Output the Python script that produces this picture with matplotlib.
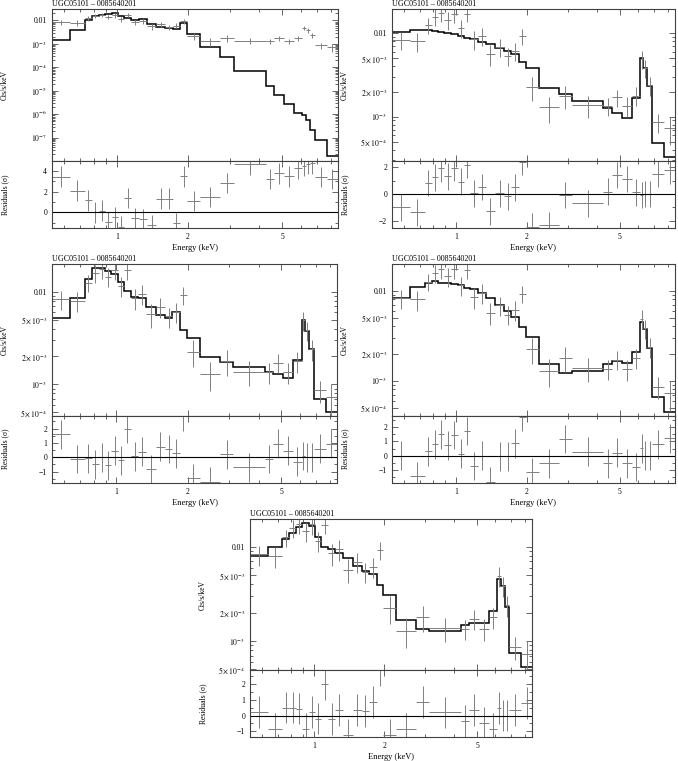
import numpy as np
import matplotlib.pyplot as plt
from matplotlib.ticker import FixedLocator, NullFormatter, MultipleLocator, LogLocator

plt.rcParams['font.family'] = ['Liberation Serif', 'DejaVu Serif']
plt.rcParams['mathtext.fontset'] = 'stix'

W, H = 678, 761
title = 'UGC05101 \u2013 0085640201'

# energy bins (keV), shared by every panel
edges = [0.530, 0.634, 0.734, 0.786, 0.841, 0.892, 0.952, 1.016, 1.078, 1.150,
         1.236, 1.340, 1.468, 1.603, 1.722, 1.856, 1.981, 2.256, 2.743, 3.124,
         4.255, 4.616, 5.088, 5.610, 6.086, 6.308, 6.559, 6.865, 7.719, 8.600]

# observed spectrum (Cts/s/keV) and 1-sigma errors
flux = [8.26e-3, 8.0e-3, 0.0125, 0.0158, 0.0174, 0.0145, 0.0172, 0.0115, 0.0171, 8.5e-3,
        9.4e-3, 5.7e-3, 6.9e-3, 5.4e-3, 6.1e-3, 9.2e-3, 2.25e-3, 1.29e-3, 1.79e-3, 1.37e-3,
        1.35e-3, 1.71e-3, 1.35e-3, 1.79e-3, 4.9e-3, 3.83e-3, 2.39e-3, 8.6e-4, 7.3e-4]
flux_err = [2.0e-3, 2.0e-3, 2.6e-3, 3.5e-3, 3.8e-3, 3.4e-3, 3.8e-3, 2.8e-3, 3.6e-3, 2.2e-3,
            2.3e-3, 1.6e-3, 1.7e-3, 1.3e-3, 1.5e-3, 2.0e-3, 0.72e-3, 0.45e-3, 0.55e-3, 0.4e-3,
            0.33e-3, 0.4e-3, 0.35e-3, 0.45e-3, 1.15e-3, 0.9e-3, 0.6e-3, 0.23e-3, 0.27e-3]

# folded models
model_1 = [1.5e-3, 4.0e-3, 0.010, 0.0163, 0.0174, 0.0186, 0.0206, 0.0163, 0.0134, 0.0107,
           0.0114, 7.2e-3, 5.5e-3, 5.0e-3, 4.3e-3, 8.2e-3, 2.6e-3, 7.3e-4, 2.7e-4, 7.1e-5,
           1.6e-5, 6.7e-6, 2.7e-6, 1.1e-6, 9.4e-7, 5.7e-7, 2.1e-7, 8.1e-8, 1.6e-8]
model_2 = [0.0103, 0.0109, 0.0109, 0.0107, 0.0104, 0.0100, 9.7e-3, 9.4e-3, 8.9e-3, 8.5e-3,
           7.9e-3, 7.4e-3, 6.7e-3, 6.1e-3, 5.65e-3, 4.57e-3, 3.8e-3, 2.23e-3, 1.87e-3, 1.54e-3,
           1.26e-3, 1.10e-3, 9.55e-4, 1.66e-3, 5.1e-3, 3.8e-3, 2.36e-3, 4.8e-4, 3.3e-4]
model_3 = [5.15e-3, 8.48e-3, 0.0137, 0.0179, 0.0179, 0.0167, 0.0154, 0.0126, 0.0102, 8.7e-3,
           8.5e-3, 6.89e-3, 5.6e-3, 5.15e-3, 5.98e-3, 3.85e-3, 3.19e-3, 1.99e-3, 1.76e-3, 1.53e-3,
           1.37e-3, 1.28e-3, 1.16e-3, 1.83e-3, 4.94e-3, 3.77e-3, 2.39e-3, 6.95e-4, 4.99e-4]
model_4 = [8.36e-3, 0.0111, 0.0123, 0.0128, 0.0123, 0.0120, 0.0117, 0.0114, 0.0108, 0.0103,
           9.34e-3, 8.2e-3, 6.93e-3, 6.0e-3, 5.06e-3, 3.92e-3, 3.03e-3, 1.53e-3, 1.21e-3, 1.29e-3,
           1.53e-3, 1.66e-3, 1.56e-3, 2.07e-3, 4.45e-3, 3.75e-3, 2.33e-3, 6.53e-4, 4.53e-4]
model_5 = [8.03e-3, 0.0100, 0.0120, 0.0141, 0.0160, 0.0177, 0.0167, 0.0125, 0.0100, 9.37e-3,
           8.63e-3, 7.51e-3, 6.3e-3, 5.58e-3, 5.1e-3, 3.92e-3, 3.07e-3, 1.67e-3, 1.34e-3, 1.29e-3,
           1.48e-3, 1.54e-3, 1.54e-3, 2.08e-3, 4.54e-3, 3.83e-3, 2.31e-3, 7.5e-4, 5.34e-4]

# residuals (sigma)
resid_1 = [3.45, 2.1, 1.16, 0.0, 0.16, -0.97, -0.48, -1.39, 1.39, -0.58,
           -0.65, -1.26, 1.32, 1.32, -1.03, 3.5, 1.1, 1.48, 2.84, 4.65,
           3.23, 3.77, 3.5, 4.26, 4.5, 4.68, 4.74, 3.42, 3.23]
resid_2 = [-1.0, -1.38, 0.83, 1.25, 1.93, 1.33, 1.98, 0.93, 2.18, 0.05,
           0.53, -1.3, 0.05, -0.18, 0.5, 2.43, -2.45, -2.33, -0.08, -0.7,
           0.18, 1.43, 1.13, 0.13, -0.08, 0.0, 0.0, 1.5, 1.78]
resid_3 = [1.6, -0.12, -0.07, -0.49, 0.0, -0.56, 0.47, -0.2, 2.0, 0.07,
           0.4, -0.84, 0.74, 0.58, 0.28, 2.85, -1.45, -1.7, 0.2, -0.7,
           -0.12, 0.95, 0.47, -0.3, 0.1, 0.0, 0.0, 0.6, 0.95]
resid_4 = [0.0, -1.43, 0.3, 0.8, 1.5, 0.73, 1.45, 0.14, 1.73, -0.73,
           0.0, -1.83, -0.05, -0.05, 0.87, 2.74, -1.17, -0.54, 1.17, 0.28,
           -0.54, 0.21, -0.54, -0.8, 0.52, 0.0, 0.0, 0.8, 1.22]
resid_5 = [0.23, -0.86, 0.5, 0.5, 0.44, -0.86, 0.23, -0.19, 2.0, -0.23,
           0.34, -1.24, 0.34, 0.29, 0.86, 2.86, -1.24, -0.86, 0.86, 0.19,
           -0.36, 0.36, -0.44, -0.82, 0.48, 0.0, 0.0, 0.36, 0.8]

ticks_log = [0.01, 1e-3, 1e-4, 1e-5, 1e-6, 1e-7]
labels_log = ['0.01', r'$10^{-3}$', r'$10^{-4}$', r'$10^{-5}$', r'$10^{-6}$', r'$10^{-7}$']
ticks_lin = [0.01, 5e-3, 2e-3, 1e-3, 5e-4]
labels_lin = ['0.01', r'$5\times10^{-3}$', r'$2\times10^{-3}$', r'$10^{-3}$', r'$5\times10^{-4}$']

fig = plt.figure(figsize=(W / 100, H / 100), dpi=100)

e = np.array(edges)
cen = np.sqrt(e[:-1] * e[1:])
xerr = [cen - e[:-1], e[1:] - cen]
FS = 5.5


def style_x(ax, labels):
    ax.set_xscale('log')
    ax.set_xlim(0.533, 8.6)
    ax.xaxis.set_major_locator(FixedLocator([1, 2, 5]))
    ax.xaxis.set_minor_locator(FixedLocator([0.6, 0.7, 0.8, 0.9, 3, 4, 6, 7, 8]))
    ax.xaxis.set_minor_formatter(NullFormatter())
    if labels:
        ax.set_xticklabels(['1', '2', '5'])
    else:
        ax.xaxis.set_major_formatter(NullFormatter())
    ax.tick_params(which='both', direction='in', top=True, right=True,
                   labelsize=FS, color='0.3', width=0.6)
    ax.tick_params(which='major', length=4)
    ax.tick_params(which='minor', length=2)
    for s in ax.spines.values():
        s.set_linewidth(0.8)
        s.set_color('0.25')


def panel(x0, x1, yt, ym, yb, model, resid, ylo, yhi, yt_vals, yt_labels,
          rlo, rhi, rmaj, rmin):
    ax = fig.add_axes([x0 / W, 1 - ym / H, (x1 - x0) / W, (ym - yt) / H])
    axr = fig.add_axes([x0 / W, 1 - yb / H, (x1 - x0) / W, (yb - ym) / H])

    ax.errorbar(cen, flux, xerr=xerr, yerr=flux_err, fmt='none',
                ecolor='0.5', elinewidth=0.7, capsize=0)
    ax.stairs(model, edges, baseline=None, color='k', lw=1.1)
    ax.set_yscale('log')
    ax.set_ylim(ylo, yhi)
    style_x(ax, False)
    ax.yaxis.set_major_locator(FixedLocator(yt_vals))
    ax.set_yticklabels(yt_labels)
    ax.yaxis.set_minor_locator(LogLocator(subs=np.arange(2, 10)))
    ax.yaxis.set_minor_formatter(NullFormatter())

    axr.errorbar(cen, resid, xerr=xerr, yerr=1.0, fmt='none',
                 ecolor='0.5', elinewidth=0.7, capsize=0)
    axr.axhline(0, color='k', lw=0.8)
    axr.set_ylim(rlo, rhi)
    style_x(axr, True)
    axr.yaxis.set_major_locator(MultipleLocator(rmaj))
    axr.yaxis.set_minor_locator(MultipleLocator(rmin))
    axr.yaxis.set_major_formatter(plt.FuncFormatter(
        lambda v, p: ('\u2212%d' % -v) if v < 0 else '%d' % v))

    xl = x0 - 47
    fig.text(xl / W, 1 - (yt + ym) / 2 / H, 'Cts/s/keV', rotation=90,
             ha='center', va='center', fontsize=FS)
    fig.text(xl / W, 1 - (ym + yb) / 2 / H, 'Residuals (\u03c3)', rotation=90,
             ha='center', va='center', fontsize=FS)
    fig.text((x0 + x1) / 2 / W, 1 - (yb + 20) / H, 'Energy (keV)',
             ha='center', va='center', fontsize=FS + 0.5)
    fig.text(x0 / W, 1 - (yt - 5) / H, title, ha='left', va='center',
             fontsize=FS + 0.3)


panel(52, 338, 9.3, 161, 227.7, model_1, resid_1, 1.02e-8, 0.03,
      ticks_log, labels_log, -1.48, 4.97, 2, 1)
panel(392, 675, 9.3, 161, 227.7, model_2, resid_2, 2.94e-4, 0.0194,
      ticks_lin, labels_lin, -2.52, 2.47, 2, 1)
panel(52, 337, 264.3, 415.7, 482.7, model_3, resid_3, 4.59e-4, 0.0197,
      ticks_lin, labels_lin, -1.77, 2.9, 1, 0.5)
panel(392, 675, 264.3, 415.7, 482.7, model_4, resid_4, 4.08e-4, 0.0196,
      ticks_lin, labels_lin, -1.9, 2.81, 1, 0.5)
panel(250, 532, 519, 670, 737, model_5, resid_5, 4.93e-4, 0.0196,
      ticks_lin, labels_lin, -1.35, 2.86, 1, 0.5)

fig.savefig('out.png', dpi=100)
